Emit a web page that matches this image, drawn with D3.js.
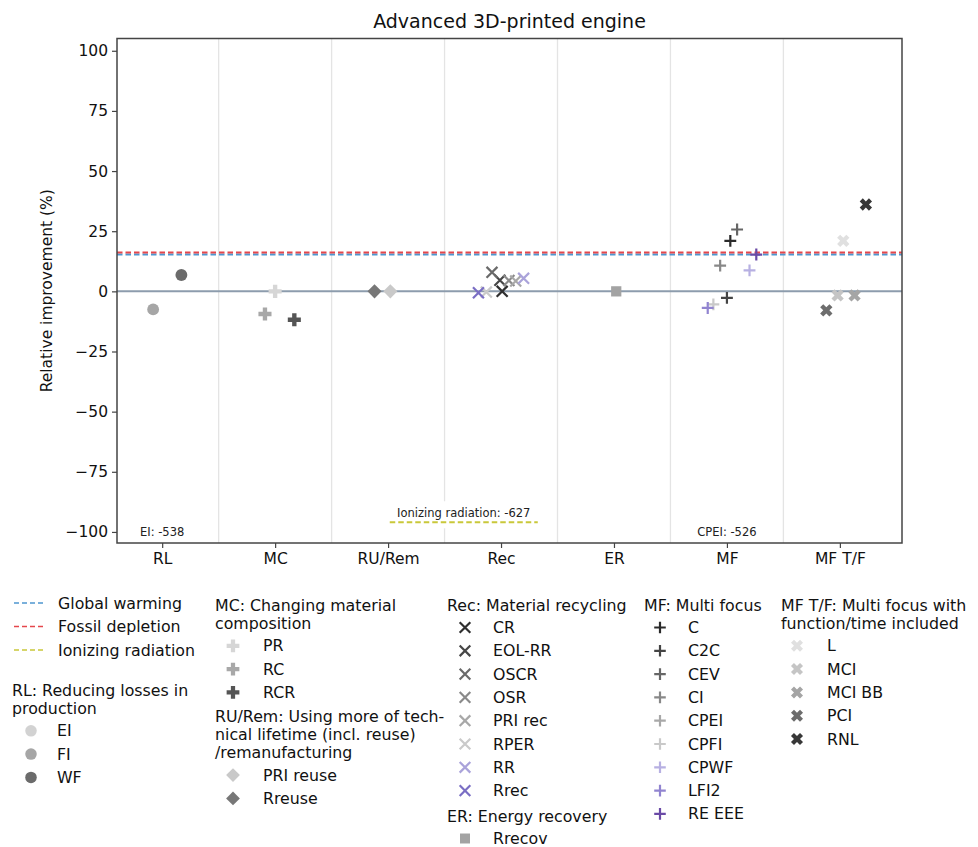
<!DOCTYPE html>
<html>
<head>
<meta charset="utf-8">
<script src="https://cdn.jsdelivr.net/npm/d3@7"></script>
<style>
body{margin:0;background:#fff;}
svg{font-family:"DejaVu Sans",sans-serif;}
</style>
</head>
<body>
<svg id="chart" width="978" height="847"></svg>
<script>
// categories on the x axis
var categories=["RL","MC","RU/Rem","Rec","ER","MF","MF T/F"];
var yTicks=[-100,-75,-50,-25,0,25,50,75,100];

// reference lines (relative improvement, %)
var refNames=["Global warming","Fossil depletion","Ionizing radiation"];
var refValues=[15.3,16.2,-627];

// RL: Reducing losses in production
var rlNames=["EI","FI","WF"];
var rlValues=[-538,-7.5,6.8];
var rlJitter=[0,-0.08,0.17];

// MC: Changing material composition
var mcNames=["PR","RC","RCR"];
var mcValues=[0,-9.4,-11.8];
var mcJitter=[0.0,-0.09,0.17];

// RU/Rem
var ruNames=["PRI reuse","Rreuse"];
var ruValues=[0,0];
var ruJitter=[0.02,-0.12];

// Rec: Material recycling
var recNames=["CR","EOL-RR","OSCR","OSR","PRI rec","RPER","RR","Rrec"];
var recValues=[0,4.6,7.9,4.5,4.3,-0.3,5.4,-0.6];
var recJitter=[0.01,-0.01,-0.08,0.07,0.13,-0.13,0.2,-0.2];

// ER: Energy recovery
var erNames=["Rrecov"];
var erValues=[0];
var erJitter=[0.02];

// MF: Multi focus
var mfNames=["C","C2C","CEV","CI","CPEI","CPFI","CPWF","LFI2","RE EEE"];
var mfValues=[21.0,-2.7,25.7,10.7,-526,-5.4,8.7,-6.9,15.3];
var mfJitter=[0.03,0.0,0.09,-0.06,0,-0.12,0.2,-0.17,0.26];

// MF T/F: Multi focus with function/time included
var mftNames=["L","MCI","MCI BB","PCI","RNL"];
var mftValues=[21.0,-1.7,-1.7,-7.9,36.1];
var mftJitter=[0.03,-0.02,0.13,-0.12,0.23];

// colours
var refColors=["#4f97d0","#e5474c","#c9c83a"];
var rlColors=["#d2d2d2","#a6a6a6","#6b6b6b"];
var mcColors=["#d6d6d6","#a8a8a8","#555555"];
var ruColors=["#c9c9c9","#777777"];
var recColors=["#2f2f2f","#474747","#6a6a6a","#8a8a8a","#a8a8a8","#cacaca","#aaa3da","#7a6ec4"];
var erColors=["#a3a3a3"];
var mfColors=["#2a2a2a","#444444","#666666","#888888","#a8a8a8","#c9c9c9","#b7b0e2","#9184d0","#6a4aa6"];
var mftColors=["#e0e0e0","#c5c5c5","#a5a5a5","#6d6d6d","#383838"];

var groups=[
    {cat:0,title:["RL: Reducing losses in","production"],names:rlNames,values:rlValues,jitter:rlJitter,colors:rlColors,mk:"o"},
    {cat:1,title:["MC: Changing material","composition"],names:mcNames,values:mcValues,jitter:mcJitter,colors:mcColors,mk:"P"},
    {cat:2,title:["RU/Rem: Using more of tech-","nical lifetime (incl. reuse)","/remanufacturing"],names:ruNames,values:ruValues,jitter:ruJitter,colors:ruColors,mk:"D"},
    {cat:3,title:["Rec: Material recycling"],names:recNames,values:recValues,jitter:recJitter,colors:recColors,mk:"x"},
    {cat:4,title:["ER: Energy recovery"],names:erNames,values:erValues,jitter:erJitter,colors:erColors,mk:"s"},
    {cat:5,title:["MF: Multi focus"],names:mfNames,values:mfValues,jitter:mfJitter,colors:mfColors,mk:"+"},
    {cat:6,title:["MF T/F: Multi focus with","function/time included"],names:mftNames,values:mftValues,jitter:mftJitter,colors:mftColors,mk:"X"}
];

var svg=d3.select("#chart");
var pLeft=117,pRight=902,pTop=38.5,pBottom=543;
var yMin=-104.6,yMax=105.1;
var x=d3.scaleLinear().domain([-0.4,6.55]).range([pLeft,pRight]);
var y=d3.scaleLinear().domain([yMin,yMax]).range([pBottom,pTop]);

//绘制标记
function marker(g,mk,color,big){
    var k=big?1:0.95;
    if(mk=="o"){
        g.append("path").attr("d",d3.symbol(d3.symbolCircle,110*k)()).attr("fill",color);
    }else if(mk=="P"){
        g.append("path").attr("d",d3.symbol(d3.symbolCross,95*k)()).attr("fill",color);
    }else if(mk=="X"){
        g.append("path").attr("d",d3.symbol(d3.symbolCross,95*k)()).attr("fill",color).attr("transform","rotate(45)");
    }else if(mk=="D"){
        g.append("path").attr("d",d3.symbol(d3.symbolSquare,100*k)()).attr("fill",color).attr("transform","rotate(45)");
    }else if(mk=="s"){
        g.append("path").attr("d",d3.symbol(d3.symbolSquare,105*k)()).attr("fill",color);
    }else if(mk=="x"){
        g.append("path").attr("d",d3.symbol(d3.symbolTimes,80*k)()).attr("fill","none").attr("stroke",color).attr("stroke-width",2.2);
    }else if(mk=="+"){
        g.append("path").attr("d",d3.symbol(d3.symbolPlus,48*k)()).attr("fill","none").attr("stroke",color).attr("stroke-width",2.2);
    }
}

// title
svg.append("text").attr("x",(pLeft+pRight)/2).attr("y",28).attr("text-anchor","middle")
    .style("font-size","19px").attr("fill","#111").text("Advanced 3D-printed engine");

// vertical grid between categories
var board=svg.append("g");
board.selectAll("line.grid").data(d3.range(categories.length-1)).enter().append("line")
    .attr("x1",function(d){return x(d+0.5);}).attr("x2",function(d){return x(d+0.5);})
    .attr("y1",pTop).attr("y2",pBottom).attr("stroke","#e4e4e4").attr("stroke-width",1.3);

// zero line
board.append("line").attr("x1",pLeft).attr("x2",pRight).attr("y1",y(0)).attr("y2",y(0))
    .attr("stroke","#8d9cad").attr("stroke-width",2);

// reference lines (only those inside the range)
refValues.forEach(function(v,i){
    if(v<yMin) return;
    board.append("line").attr("x1",pLeft).attr("x2",pRight).attr("y1",y(v)).attr("y2",y(v))
        .attr("stroke",refColors[i]).attr("stroke-width",2).attr("stroke-dasharray","5.5,3");
});

// points
groups.forEach(function(gr){
    gr.values.forEach(function(v,i){
        if(v<yMin) return;
        var g=board.append("g").attr("transform","translate("+x(gr.cat+gr.jitter[i])+","+y(v)+")");
        marker(g,gr.mk,gr.colors[i],true);
    });
});

// off-scale annotations
groups.forEach(function(gr){
    gr.values.forEach(function(v,i){
        if(v>=yMin) return;
        svg.append("text").attr("x",x(gr.cat)).attr("y",y(-100)).attr("dy","0.35em")
            .attr("text-anchor","middle").style("font-size","11.5px").attr("fill","#222")
            .text(gr.names[i]+": "+v);
    });
});
refValues.forEach(function(v,i){
    if(v>=yMin) return;
    var cx=x(2.67);
    svg.append("rect").attr("x",cx-76).attr("y",y(-91)-9).attr("width",152).attr("height",27).attr("fill","#fff");
    svg.append("text").attr("x",cx).attr("y",y(-92)).attr("dy","0.35em").attr("text-anchor","middle")
        .style("font-size","11.5px").attr("fill","#222").text(refNames[i]+": "+v);
    svg.append("line").attr("x1",cx-74).attr("x2",cx+74).attr("y1",y(-96)).attr("y2",y(-96))
        .attr("stroke",refColors[i]).attr("stroke-width",2).attr("stroke-dasharray","5.5,3");
});

// frame
svg.append("rect").attr("x",pLeft).attr("y",pTop).attr("width",pRight-pLeft).attr("height",pBottom-pTop)
    .attr("fill","none").attr("stroke","#444").attr("stroke-width",1.5);

// axes
var yAxis=d3.axisLeft(y).tickValues(yTicks).tickSize(5).tickPadding(4);
var ga=svg.append("g").attr("transform","translate("+pLeft+",0)").call(yAxis);
ga.select(".domain").remove();
ga.selectAll("text").style("font-size","15.5px").attr("fill","#111").style("font-family","DejaVu Sans");
ga.selectAll("line").attr("stroke","#444").attr("stroke-width",1.2);

var xAxis=d3.axisBottom(x).tickValues(d3.range(categories.length)).tickFormat(function(d){return categories[d];}).tickSize(5).tickPadding(5);
var gx=svg.append("g").attr("transform","translate(0,"+pBottom+")").call(xAxis);
gx.select(".domain").remove();
gx.selectAll("text").style("font-size","15.5px").attr("fill","#111").style("font-family","DejaVu Sans");
gx.selectAll("line").attr("stroke","#444").attr("stroke-width",1.2);

svg.append("text").attr("transform","translate(47,"+((pTop+pBottom)/2)+") rotate(-90)")
    .attr("text-anchor","middle").attr("dy","0.35em").style("font-size","15.5px").attr("fill","#111")
    .text("Relative improvement (%)");

// legends
var fs="15.8px";
var lg=svg.append("g").style("font-size",fs).attr("fill","#111");
// reference line legend
refNames.forEach(function(n,i){
    var yy=603+i*23.5;
    lg.append("line").attr("x1",14).attr("x2",45).attr("y1",yy).attr("y2",yy)
        .attr("stroke",refColors[i]).attr("stroke-width",1.6).attr("stroke-dasharray","5,3");
    lg.append("text").attr("x",58).attr("y",yy).attr("dy","0.35em").text(n);
});

var legendPos=[
    {x:12,y:690,mx:31,tx:57},
    {x:215,y:605,mx:233,tx:263},
    {x:215,y:716,mx:233,tx:263},
    {x:447,y:605,mx:465,tx:493},
    {x:447,y:816,mx:465,tx:493},
    {x:644,y:605,mx:660,tx:688},
    {x:781,y:605,mx:797,tx:827}
];
groups.forEach(function(gr,gi){
    var p=legendPos[gi];
    gr.title.forEach(function(t,j){
        lg.append("text").attr("x",p.x).attr("y",p.y+j*18.3).attr("dy","0.35em").text(t);
    });
    var y0=p.y+(gr.title.length-1)*18.3+22.5;
    gr.names.forEach(function(n,i){
        var yy=y0+i*23.3;
        var g=lg.append("g").attr("transform","translate("+p.mx+","+yy+")");
        marker(g,gr.mk,gr.colors[i],false);
        lg.append("text").attr("x",p.tx).attr("y",yy).attr("dy","0.35em").text(n);
    });
});
</script>
</body>
</html>
